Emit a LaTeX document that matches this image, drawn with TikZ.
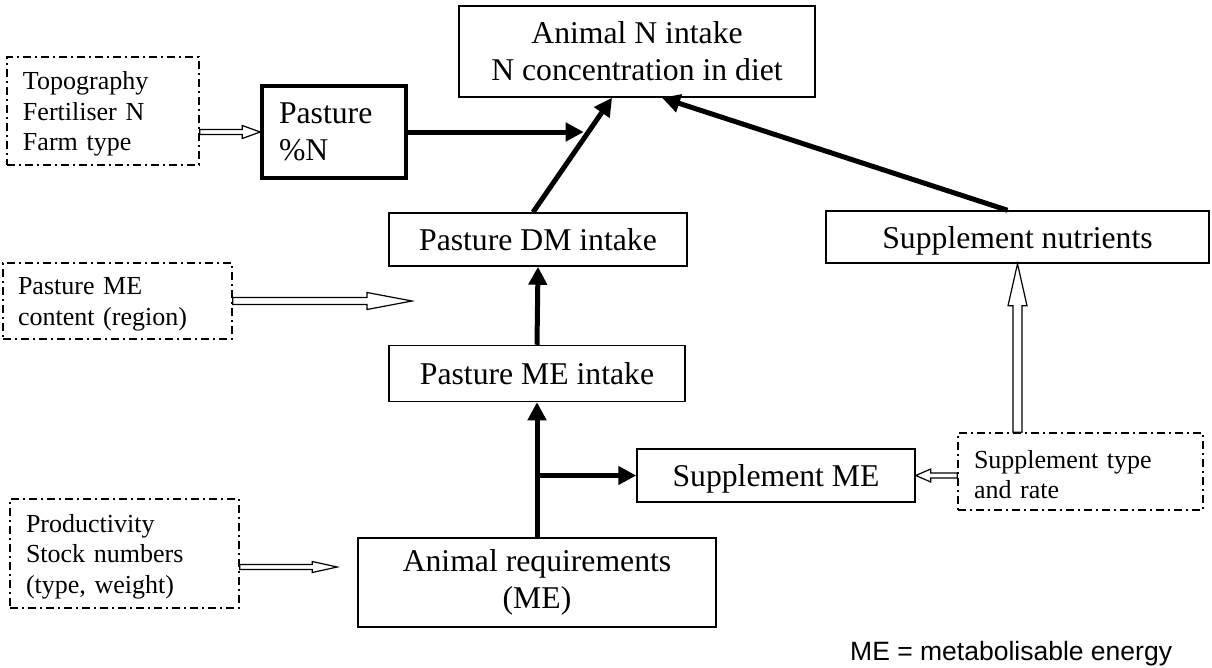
\documentclass[tikz,border=0pt]{standalone}
\usepackage{fontspec}
\setmainfont{Liberation Serif}
\newfontfamily\arialf{Liberation Sans}
\usetikzlibrary{arrows.meta,calc}
\newcommand\dstrut{\rule{0pt}{24pt}}
\tikzset{
  mainbox/.style={draw, line width=1.5pt, inner sep=0pt, align=center, font=\fontsize{31.7}{37}\selectfont},
  dbox/.style={draw, line width=1.5pt, dash pattern=on 8pt off 4pt on 2pt off 4pt, inner sep=0pt, align=left, font=\fontsize{26}{30.5}\selectfont},
  thickarr/.style={line width=5pt, -{Triangle[length=18pt,width=18pt]}},
  hollow/.style={draw, fill=white, line width=1.2pt, line join=miter},
}
\newcommand\hollowH[5]{%
  \path[hollow] let \p1=(#1), \p2=(#2), \n1={sign(\x2-\x1)} in
   (\x1,\y1+#3) -- (\x2-\n1*#5,\y1+#3) -- (\x2-\n1*#5,\y1+#4) -- (\x2,\y1)
   -- (\x2-\n1*#5,\y1-#4) -- (\x2-\n1*#5,\y1-#3) -- (\x1,\y1-#3) -- cycle;}
\newcommand\hollowV[5]{%
  \path[hollow] let \p1=(#1), \p2=(#2), \n1={sign(\y2-\y1)} in
   (\x1+#3,\y1) -- (\x1+#3,\y2-\n1*#5) -- (\x1+#4,\y2-\n1*#5) -- (\x1,\y2)
   -- (\x1-#4,\y2-\n1*#5) -- (\x1-#3,\y2-\n1*#5) -- (\x1-#3,\y1) -- cycle;}
\begin{document}
\begin{tikzpicture}[x=1pt,y=-1pt]
\useasboundingbox[fill=white] (0,0) rectangle (1212,667);
% main boxes
\node[mainbox, minimum width=356pt, minimum height=91pt] (top) at (637,51.5) {Animal N intake\\N concentration in diet};
\node[mainbox, line width=3.5pt, minimum width=144pt, minimum height=92pt, text width=110pt, align=left] (pn) at (334,132) {Pasture\\\%N};
\node[mainbox, minimum width=298pt, minimum height=53pt] (dm) at (538,239.5) {Pasture DM intake};
\node[mainbox, minimum width=383pt, minimum height=52pt, text depth=0pt] (sn) at (1017.5,237) {Supplement nutrients};
\node[mainbox, minimum width=296pt, minimum height=56pt] (me) at (537,373.5) {Pasture ME intake};
\node[mainbox, minimum width=278pt, minimum height=53pt, text depth=0pt] (sme) at (776,475.5) {Supplement ME};
\node[mainbox, minimum width=358pt, minimum height=89pt] (ar) at (537,582.5) {Animal requirements\\(ME)};
% dash-dot boxes
\node[dbox, minimum width=192pt, minimum height=108pt, text width=160pt] (topo) at (103,111) {\dstrut Topography\\Fertiliser N\\Farm type};
\node[dbox, minimum width=229pt, minimum height=76pt, text width=199pt] (pme) at (117.5,301) {\dstrut Pasture ME\\content (region)};
\node[dbox, minimum width=229pt, minimum height=109pt, text width=197pt] (prod) at (124.5,553.5) {\dstrut Productivity\\Stock numbers\\(type, weight)};
\node[dbox, minimum width=245pt, minimum height=77pt, text width=213pt] (stype) at (1080.5,471.5) {\dstrut Supplement type\\and rate};
% note
\node[anchor=base west, inner sep=0pt, font=\arialf\fontsize{26.5}{30}\selectfont] (note) at (850,660) {ME = metabolisable energy};
% thick arrows
\coordinate (tA) at ($(top.south)+(-25,0)$);
\coordinate (tB) at ($(top.south)+(25,0)$);
\coordinate (dmN) at ($(dm.north)+(-5,0)$);
\coordinate (snN) at ($(sn.north)+(-10,0)$);
\coordinate (j1) at ($(dmN)!0.68!(tA)$);
\draw[thickarr] (dmN) -- (tA);
\draw[thickarr, shorten >=3pt] (pn.east) -- (pn.east -| j1);
\draw[thickarr] (snN) -- (tB);
\draw[thickarr] (me.north) -- (dm.south);
\draw[thickarr] (ar.north) -- (me.south);
\draw[thickarr] (ar.north |- sme.west) -- (sme.west);
% hollow arrows
\coordinate (pmeEnd) at (412,301);
\coordinate (prodS) at ($(prod.east)+(0,13.5)$);
\coordinate (prodE) at ($(ar.west)+(-20,0)$);
\hollowH{topo.east |- pn.west}{pn.west}{2.5pt}{6.5pt}{18pt}
\hollowH{pme.east}{pmeEnd}{3.5pt}{8.5pt}{45pt}
\hollowH{prodS}{prodE}{2.5pt}{5.5pt}{25pt}
\hollowH{stype.west |- sme.east}{sme.east}{2.5pt}{6.5pt}{15pt}
\hollowV{stype.north -| sn.south}{sn.south}{4.5pt}{9.5pt}{42pt}
\end{tikzpicture}
\end{document}
